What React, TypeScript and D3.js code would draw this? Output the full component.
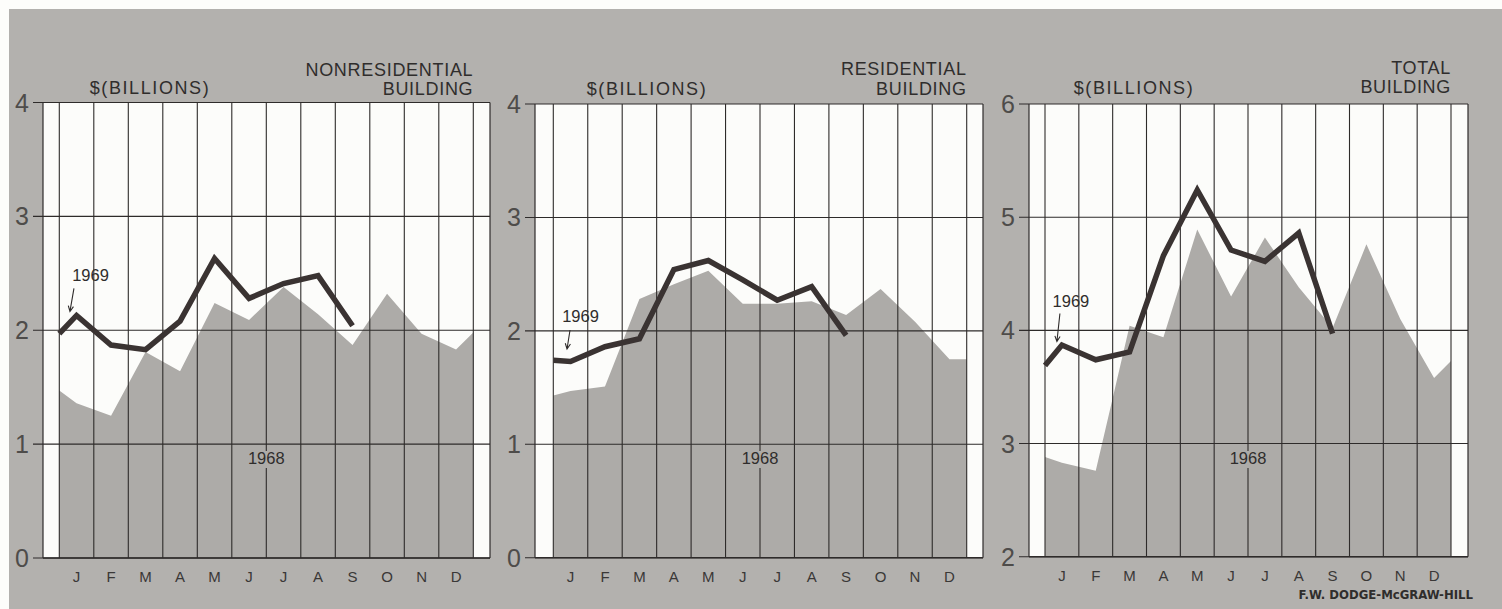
import React from "react";
import * as d3 from "d3";

// ---------- DATA ----------
const months = ["J", "F", "M", "A", "M", "J", "J", "A", "S", "O", "N", "D"];

// 1968 series: [start-edge, J..D, end-edge]
const nonres1968 = [1.47, 1.36, 1.25, 1.81, 1.64, 2.24, 2.09, 2.38, 2.14, 1.87, 2.32, 1.97, 1.83, 1.98];
const res1968 = [1.43, 1.47, 1.51, 2.28, 2.41, 2.53, 2.24, 2.24, 2.26, 2.14, 2.37, 2.08, 1.75, 1.75];
const total1968 = [2.88, 2.83, 2.76, 4.04, 3.94, 4.89, 4.3, 4.82, 4.38, 4.02, 4.76, 4.1, 3.58, 3.73];

// 1969 series: [start-edge, J..S]
const nonres1969 = [1.97, 2.13, 1.87, 1.83, 2.08, 2.63, 2.28, 2.41, 2.48, 2.04];
const res1969 = [1.74, 1.73, 1.86, 1.93, 2.54, 2.62, 2.45, 2.27, 2.39, 1.96];
const total1969 = [3.69, 3.87, 3.74, 3.81, 4.66, 5.24, 4.71, 4.61, 4.86, 3.97];

const ticksBuilding = [0, 1, 2, 3, 4];
const ticksTotal = [2, 3, 4, 5, 6];

const unitLabel = "$(BILLIONS)";
const titlesNonres = ["NONRESIDENTIAL", "BUILDING"];
const titlesRes = ["RESIDENTIAL", "BUILDING"];
const titlesTotal = ["TOTAL", "BUILDING"];
const label1968 = "1968";
const label1969 = "1969";
const sourceLabel = "F.W. DODGE-McGRAW-HILL";

// ---------- STYLE / LAYOUT ----------
const PAPER = "#b3b1ae";
const AREA = "#adaba8";
const WHITE = "#fcfcfa";
const INK = "#2e2b2a";
const LINE = "#3a3332";
const FONT = "'Liberation Sans', Arial, sans-serif";

const panels = [
  {
    d68: nonres1968, d69: nonres1969, ticks: ticksBuilding, titles: titlesNonres,
    left: 43, right: 490, gridL: 59.3, gridR: 473.3, top: 102.5, bottom: 558,
    unitX: 150, unitY: 94, titleY: [75.5, 95],
    lab69: { dx: 14, dy: -34, a1: [-2.6, -27], a2: [-6.6, -4] },
  },
  {
    d68: res1968, d69: res1969, ticks: ticksBuilding, titles: titlesRes,
    left: 535, right: 983, gridL: 553.3, gridR: 966.7, top: 104, bottom: 557.7,
    unitX: 647, unitY: 95, titleY: [75, 95],
    lab69: { dx: 10, dy: -39, a1: [-0.5, -31.5], a2: [-3.5, -12.5] },
  },
  {
    d68: total1968, d69: total1969, ticks: ticksTotal, titles: titlesTotal,
    left: 1029, right: 1468, gridL: 1045, gridR: 1451, top: 104, bottom: 556.7,
    unitX: 1134, unitY: 93.5, titleY: [74, 93],
    lab69: { dx: 9, dy: -38, a1: [-2, -31.5], a2: [-5, -3.5] },
  },
];

// position of k-th value in month units (0 = first gridline, 12 = last gridline)
const pos68 = (k: number) => (k === 0 ? 0 : k === 13 ? 12 : k - 0.5);
const pos69 = (k: number) => (k === 0 ? 0 : k - 0.5);

function Panel({ p }: { p: any }) {
  const x = d3.scaleLinear().domain([0, 12]).range([p.gridL, p.gridR]);
  const y = d3
    .scaleLinear()
    .domain([p.ticks[0], p.ticks[p.ticks.length - 1]])
    .range([p.bottom, p.top]);

  const area = d3
    .area<number>()
    .x((_, i) => x(pos68(i)))
    .y0(p.bottom)
    .y1((v) => y(v));
  const line = d3
    .line<number>()
    .x((_, i) => x(pos69(i)))
    .y((v) => y(v));

  const grid = d3.range(13);
  const jx = x(pos69(1));
  const jy = y(p.d69[1]);
  const L = p.lab69;
  const ax1 = jx + L.a1[0], ay1 = jy + L.a1[1];
  const ax2 = jx + L.a2[0], ay2 = jy + L.a2[1];
  const ang = Math.atan2(ay2 - ay1, ax2 - ax1);
  const hl = 6;
  const h1 = [ax2 - hl * Math.cos(ang - 0.45), ay2 - hl * Math.sin(ang - 0.45)];
  const h2 = [ax2 - hl * Math.cos(ang + 0.45), ay2 - hl * Math.sin(ang + 0.45)];
  const midX = x(6);

  return (
    <g>
      <rect x={p.left} y={p.top} width={p.right - p.left} height={p.bottom - p.top} fill={WHITE} />
      <path d={area(p.d68) || ""} fill={AREA} />
      {p.ticks.map((t: number) => (
        <g key={"h" + t}>
          <line x1={p.left - 10} x2={p.right} y1={y(t)} y2={y(t)} stroke={INK} strokeWidth={1.1} />
          <text
            x={p.left - 21}
            y={y(t)}
            dy="0.36em"
            textAnchor="middle"
            fontFamily={FONT}
            fontSize={25}
            fill="#4e4c4a"
          >
            {t}
          </text>
        </g>
      ))}
      {grid.map((g) => (
        <line key={"v" + g} x1={x(g)} x2={x(g)} y1={p.top} y2={p.bottom} stroke={INK} strokeWidth={1.1} />
      ))}
      <line x1={p.left} x2={p.left} y1={p.top} y2={p.bottom} stroke={INK} strokeWidth={1.2} />
      <line x1={p.right} x2={p.right} y1={p.top} y2={p.bottom} stroke={INK} strokeWidth={1.2} />
      <line x1={p.left} x2={p.right} y1={p.bottom} y2={p.bottom} stroke={INK} strokeWidth={1.6} />
      <rect x={midX - 20} y={451} width={40} height={17} fill={AREA} />
      <text x={midX} y={464} textAnchor="middle" fontFamily={FONT} fontSize={16.5} fill="#2f2d2c">
        {label1968}
      </text>
      <path
        d={line(p.d69) || ""}
        fill="none"
        stroke={LINE}
        strokeWidth={5.5}
        strokeLinejoin="miter"
        strokeLinecap="butt"
      />
      <text x={jx + L.dx} y={jy + L.dy} textAnchor="middle" fontFamily={FONT} fontSize={16.5} fill="#2f2d2c">
        {label1969}
      </text>
      <path
        d={`M${ax1},${ay1}L${ax2},${ay2}M${h1[0]},${h1[1]}L${ax2},${ay2}L${h2[0]},${h2[1]}`}
        fill="none"
        stroke={INK}
        strokeWidth={1.1}
      />
      {months.map((m, i) => (
        <text
          key={"m" + i}
          x={x(i + 0.5)}
          y={p.bottom + 24}
          textAnchor="middle"
          fontFamily={FONT}
          fontSize={15}
          fill="#3a3837"
        >
          {m}
        </text>
      ))}
      <text
        x={p.unitX}
        y={p.unitY}
        textAnchor="middle"
        fontFamily={FONT}
        fontSize={18}
        letterSpacing={1.6}
        fill="#2f2d2c"
      >
        {unitLabel}
      </text>
      {p.titles.map((t: string, i: number) => (
        <text
          key={"t" + i}
          x={p.gridR}
          y={p.titleY[i]}
          textAnchor="end"
          fontFamily={FONT}
          fontSize={18}
          letterSpacing={0.7}
          fill="#2f2d2c"
        >
          {t}
        </text>
      ))}
    </g>
  );
}

export default function App() {
  return (
    <svg
      width={1502}
      height={609}
      style={{ position: "absolute", left: 0, top: 0, display: "block" }}
    >
      <rect x={0} y={0} width={1502} height={609} fill="#fdfdfb" />
      <rect x={9} y={9} width={1493} height={600} fill={PAPER} />
      {panels.map((p, i) => (
        <Panel key={i} p={p} />
      ))}
      <text
        x={1473}
        y={599}
        textAnchor="end"
        fontFamily="'DejaVu Sans Condensed', 'Liberation Sans Narrow', sans-serif"
        fontWeight="bold"
        fontSize={13}
        fill="#2f2d2c"
      >
        {sourceLabel}
      </text>
    </svg>
  );
}
